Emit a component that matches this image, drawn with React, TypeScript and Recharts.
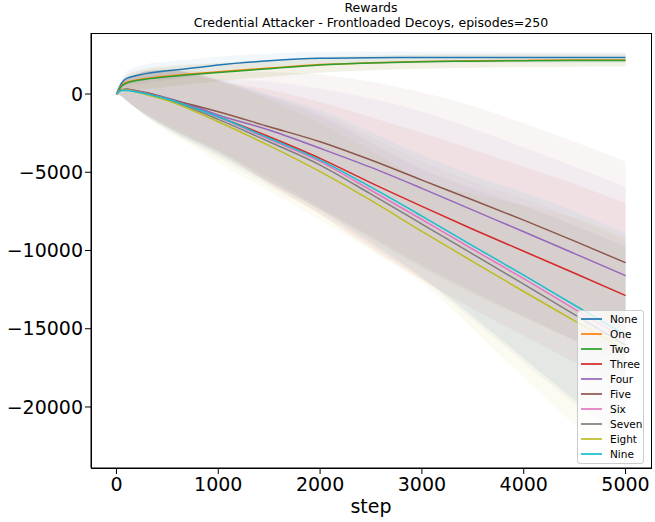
import { ComposedChart, Line, Area, XAxis, YAxis } from 'recharts';

const steps = [0, 50, 100, 200, 300, 500, 750, 1000, 1500, 2000, 2500, 3000, 3500, 4000, 4500, 5000];

const seriesNames = ['None', 'One', 'Two', 'Three', 'Four', 'Five', 'Six', 'Seven', 'Eight', 'Nine'];

const COLORS = ['#1f77b4', '#ff7f0e', '#2ca02c', '#d62728', '#9467bd', '#8c564b', '#e377c2', '#7f7f7f', '#bcbd22', '#17becf'];

// mean reward per series
const noneMean = [0, 700, 1000, 1180, 1320, 1480, 1660, 1860, 2120, 2280, 2320, 2330, 2340, 2340, 2340, 2340];
const oneMean = [0, 550, 750, 900, 1000, 1150, 1300, 1420, 1660, 1880, 2000, 2080, 2120, 2150, 2170, 2170];
const twoMean = [0, 500, 700, 860, 960, 1100, 1250, 1380, 1620, 1850, 1980, 2060, 2100, 2130, 2140, 2140];
const threeMean = [0, 270, 280, 170, 40, -300, -850, -1450, -2730, -4110, -5680, -7180, -8640, -10050, -11450, -12880];
const fourMean = [0, 280, 300, 190, 60, -250, -750, -1340, -2300, -3470, -4690, -6030, -7420, -8800, -10200, -11610];
const fiveMean = [0, 280, 300, 200, 80, -300, -700, -1130, -2090, -3050, -4220, -5500, -6770, -8060, -9400, -10780];
const sixMean = [0, 260, 280, 160, 20, -320, -880, -1490, -2900, -4320, -6150, -8020, -9920, -11800, -13750, -15650];
const sevenMean = [0, 260, 270, 150, 0, -360, -950, -1620, -3050, -4540, -6400, -8310, -10230, -12150, -14100, -16050];
const eightMean = [0, 240, 250, 120, -40, -420, -1050, -1770, -3300, -4960, -6800, -8780, -10710, -12620, -14500, -16380];
const nineMean = [0, 220, 230, 130, 0, -320, -870, -1450, -2830, -4220, -5950, -7800, -9700, -11580, -13500, -15400];

// spread (std) per series
const noneStd = [0, 250, 450, 550, 600, 600, 560, 520, 460, 420, 390, 370, 360, 350, 350, 350];
const oneStd = [0, 300, 500, 600, 650, 650, 620, 580, 540, 500, 470, 450, 430, 420, 410, 400];
const twoStd = [0, 300, 500, 600, 650, 650, 620, 580, 540, 500, 470, 450, 430, 420, 410, 400];
const threeStd = [0, 400, 700, 1100, 1400, 1800, 2100, 2300, 3000, 3600, 4200, 4700, 5100, 5400, 5700, 5900];
const fourStd = [0, 400, 700, 1100, 1400, 1800, 2100, 2300, 3100, 3800, 4400, 4900, 5200, 5400, 5550, 5690];
const fiveStd = [0, 400, 700, 1100, 1400, 1800, 2200, 2500, 3500, 4300, 5000, 5600, 6000, 6200, 6350, 6460];
const sixStd = [0, 400, 700, 1100, 1450, 1900, 2200, 2400, 2800, 3100, 3400, 3700, 4300, 5100, 5800, 6300];
const sevenStd = [0, 400, 700, 1100, 1450, 1900, 2250, 2450, 2850, 3100, 3300, 3500, 4200, 5000, 5700, 6300];
const eightStd = [0, 400, 700, 1100, 1450, 2000, 2300, 2600, 2900, 3100, 3200, 3300, 4300, 5500, 6600, 7200];
const nineStd = [0, 400, 700, 1100, 1450, 1900, 2200, 2400, 2800, 3200, 3500, 3900, 4500, 5300, 6000, 6500];

const means = [noneMean, oneMean, twoMean, threeMean, fourMean, fiveMean, sixMean, sevenMean, eightMean, nineMean];
const stds = [noneStd, oneStd, twoStd, threeStd, fourStd, fiveStd, sixStd, sevenStd, eightStd, nineStd];

const xTicks = [0, 1000, 2000, 3000, 4000, 5000];
const yTicks = [-20000, -15000, -10000, -5000, 0];

const data = steps.map((step, i) => {
  const row: any = { step };
  seriesNames.forEach((name, k) => {
    row[name] = means[k][i];
    row[name + '_band'] = [means[k][i] - stds[k][i], means[k][i] + stds[k][i]];
  });
  return row;
});

const fmt = (v: number) => String(v).replace('-', '\u2212');

const font = 'DejaVu Sans, sans-serif';

const App = () => {
  return (
    <div style={{ position: 'absolute', left: 0, top: 0, width: 655, height: 522, fontFamily: font, background: '#fff' }}>
      <div style={{ position: 'absolute', left: 91, top: 0, width: 560, textAlign: 'center', fontSize: 12.5, lineHeight: '15px', color: '#000' }}>
        <div>Rewards</div>
        <div>Credential Attacker - Frontloaded Decoys, episodes=250</div>
      </div>
      <ComposedChart width={655} height={522} data={data} margin={{ top: 33, right: 4, left: 0, bottom: 0 }}>
        <XAxis
          dataKey="step"
          type="number"
          domain={[-250, 5250]}
          ticks={xTicks}
          allowDataOverflow
          height={54}
          tickSize={6}
          tickMargin={4}
          stroke="#000"
          tick={{ fill: '#000', fontSize: 19, fontFamily: font }}
          label={{ value: 'step', position: 'insideBottom', offset: 9, fill: '#000', fontSize: 19, fontFamily: font }}
        />
        <YAxis
          type="number"
          domain={[-23900, 3900]}
          ticks={yTicks}
          allowDataOverflow
          width={91}
          tickSize={6}
          tickMargin={2}
          stroke="#000"
          tickFormatter={fmt}
          tick={{ fill: '#000', fontSize: 19, fontFamily: font }}
        />
        {seriesNames.map((name, k) => (
          <Area
            key={'band-' + name}
            type="monotone"
            dataKey={name + '_band'}
            stroke="none"
            fill={COLORS[k]}
            fillOpacity={0.06}
            isAnimationActive={false}
          />
        ))}
        {seriesNames.map((name, k) => (
          <Line
            key={name}
            type="monotone"
            dataKey={name}
            stroke={COLORS[k]}
            strokeWidth={1.5}
            dot={false}
            isAnimationActive={false}
          />
        ))}
      </ComposedChart>
      <div
        style={{
          position: 'absolute',
          left: 91,
          top: 33,
          width: 561,
          height: 436,
          border: '1px solid #000',
          boxSizing: 'border-box',
          pointerEvents: 'none',
        }}
      />
      <div
        style={{
          position: 'absolute',
          left: 577,
          top: 310,
          width: 67,
          height: 154,
          border: '1px solid #ccc',
          borderRadius: 3,
          background: 'rgba(255,255,255,0.8)',
          boxSizing: 'border-box',
          fontSize: 10.5,
          color: '#000',
        }}
      >
        {seriesNames.map((name, k) => (
          <div key={name} style={{ position: 'absolute', left: 3, top: 0 + k * 15.1, height: 15, display: 'flex', alignItems: 'center' }}>
            <span style={{ display: 'inline-block', width: 21, height: 2, background: COLORS[k], opacity: 0.85, marginRight: 8 }} />
            <span>{name}</span>
          </div>
        ))}
      </div>
    </div>
  );
};

export default App;
